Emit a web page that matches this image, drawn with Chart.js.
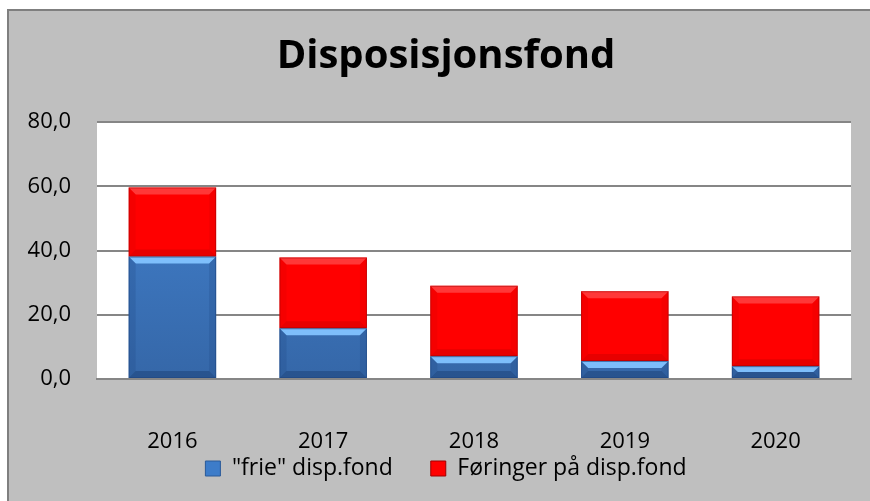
<!DOCTYPE html>
<html>
<head>
<meta charset="utf-8">
<script src="https://cdn.jsdelivr.net/npm/chart.js@4"></script>
<style>
  html, body { margin: 0; padding: 0; background: #fff; }
  #wrap { width: 870px; height: 501px; }
</style>
</head>
<body>
<div id="wrap"><canvas id="myChart" width="870" height="501"></canvas></div>
<script>
const years = ['2016', '2017', '2018', '2019', '2020'];
const frie = [38.1, 15.8, 7.1, 5.6, 4.0];
const foringer = [21.5, 22.0, 21.9, 21.7, 21.7];
const yTicks = [0, 20, 40, 60, 80];

const FONT = "'Open Sans', 'Liberation Sans', sans-serif";

// gray panel with a border only on the left and top
const panel = {
  id: 'panel',
  beforeDraw(chart) {
    const ctx = chart.ctx;
    ctx.save();
    ctx.fillStyle = '#fff';
    ctx.fillRect(0, 0, chart.width, chart.height);
    ctx.fillStyle = '#bfbfbf';
    ctx.fillRect(7, 9, chart.width - 7, chart.height - 9);
    ctx.fillStyle = '#7f7f7f';
    ctx.fillRect(7, 9, chart.width - 7, 2);
    ctx.fillRect(7, 9, 2, chart.height - 9);
    const a = chart.chartArea;
    ctx.fillStyle = '#fff';
    ctx.fillRect(a.left, a.top, a.right - a.left, a.bottom - a.top);
    ctx.restore();
  }
};

// bevel look on each bar segment
const bevel = {
  id: 'bevel',
  afterDatasetsDraw(chart) {
    const ctx = chart.ctx;
    const styles = [
      { top: 'rgba(130,195,255,0.95)', side: 'rgba(30,70,130,0.25)', bottom: 'rgba(25,60,110,0.45)', line: 'rgba(30,70,130,0.6)' },
      { top: 'rgba(255,80,80,0.7)', side: 'rgba(170,0,0,0.12)', bottom: 'rgba(160,0,0,0.25)', line: 'rgba(150,0,0,0.45)' }
    ];
    chart.data.datasets.forEach((ds, di) => {
      const st = styles[di];
      chart.getDatasetMeta(di).data.forEach(el => {
        const l = el.x - el.width / 2, r = el.x + el.width / 2;
        const t = el.y, b = el.base;
        const h = b - t;
        const d = Math.min(7, h / 2);
        const poly = (pts, c) => {
          ctx.beginPath();
          ctx.moveTo(pts[0][0], pts[0][1]);
          pts.slice(1).forEach(p => ctx.lineTo(p[0], p[1]));
          ctx.closePath();
          ctx.fillStyle = c;
          ctx.fill();
        };
        ctx.save();
        poly([[l, t], [r, t], [r - d, t + d], [l + d, t + d]], st.top);
        poly([[l, b], [r, b], [r - d, b - d], [l + d, b - d]], st.bottom);
        poly([[l, t], [l + d, t + d], [l + d, b - d], [l, b]], st.side);
        poly([[r, t], [r - d, t + d], [r - d, b - d], [r, b]], st.side);
        ctx.strokeStyle = st.line;
        ctx.lineWidth = 1;
        ctx.strokeRect(l + 0.5, t + 0.5, el.width - 1, h - 1);
        ctx.restore();
      });
    });
  }
};

function blueFill(c) {
  const a = c.chart.chartArea;
  if (!a) return '#3d7cc9';
  const g = c.chart.ctx.createLinearGradient(0, a.top, 0, a.bottom);
  g.addColorStop(0, '#4485d4');
  g.addColorStop(1, '#3567a8');
  return g;
}

const myChart = new Chart('myChart', {
  type: 'bar',
  data: {
    labels: years,
    datasets: [
      {
        label: '"frie" disp.fond',
        data: frie,
        backgroundColor: blueFill,
        borderWidth: 0,
        barPercentage: 0.58,
        categoryPercentage: 1
      },
      {
        label: 'Føringer på disp.fond',
        data: foringer,
        backgroundColor: '#ff0000',
        borderWidth: 0,
        barPercentage: 0.58,
        categoryPercentage: 1
      }
    ]
  },
  options: {
    responsive: false,
    animation: false,
    layout: { padding: { left: 22, right: 0, top: 33, bottom: 11 } },
    plugins: {
      title: {
        display: true,
        text: 'Disposisjonsfond',
        color: '#000',
        font: { family: FONT, size: 40, weight: 'bold' },
        padding: { top: 0, bottom: 41 }
      },
      legend: {
        position: 'bottom',
        labels: {
          color: '#000',
          font: { family: FONT, size: 23 },
          boxWidth: 15,
          boxHeight: 15,
          padding: 38,
          generateLabels(chart) {
            const cols = ['#3d7cc9', '#ff0000'];
            return chart.data.datasets.map((ds, i) => ({
              text: ds.label,
              fillStyle: cols[i],
              strokeStyle: i === 0 ? '#2a5a99' : '#a00000',
              lineWidth: 1,
              datasetIndex: i
            }));
          }
        }
      },
      tooltip: { enabled: false }
    },
    scales: {
      x: {
        stacked: true,
        // mirrored labels are not clipped to the axis box, so the box can stay short
        afterFit(s) { s.height = 40; },
        grid: { display: false },
        border: { color: '#868686', width: 2 },
        ticks: { color: '#000', font: { family: FONT, size: 22 }, mirror: true, padding: -76 }
      },
      y: {
        stacked: true,
        min: 0,
        max: 80,
        afterBuildTicks(s) { s.ticks = yTicks.map(v => ({ value: v })); },
        afterFit(s) { s.width = 75; },
        grid: { color: '#868686', lineWidth: 2, drawTicks: false },
        border: { display: false },
        ticks: {
          color: '#000',
          font: { family: FONT, size: 22 },
          padding: 26,
          callback: v => v.toFixed(1).replace('.', ',')
        }
      },
      // empty right-hand strip so title and legend centre like the original
      spacer: {
        position: 'right',
        afterFit(s) { s.width = 19; },
        grid: { display: false },
        border: { display: false },
        ticks: { display: false }
      }
    }
  },
  plugins: [panel, bevel]
});
</script>
</body>
</html>
